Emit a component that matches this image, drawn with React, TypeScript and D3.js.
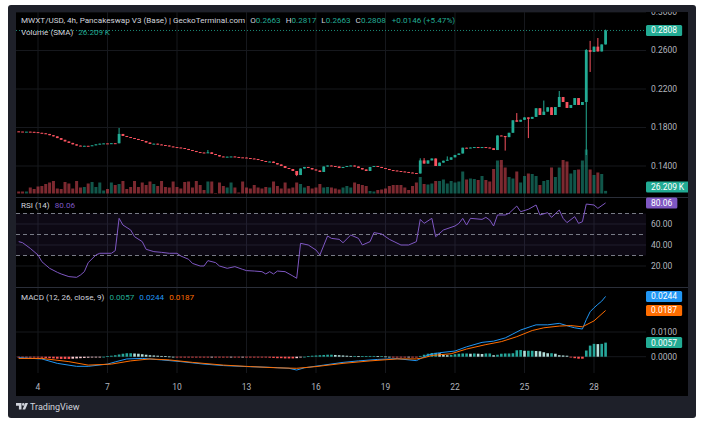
import { useEffect, useRef } from "react";
import * as d3 from "d3";

const W = 705;
const H = 426;

// 4h candles, the first one opens at day 3, 04:00
const startDay = 3 + 4 / 24;
const stepDay = 4 / 24;
const firstOpen = 0.176;

const closes = [
  0.1758, 0.1757, 0.1757, 0.1755, 0.1752, 0.1745, 0.174, 0.1733, 0.172, 0.1708,
  0.169, 0.1672, 0.1655, 0.164, 0.1625, 0.1612, 0.1608, 0.161, 0.1609, 0.1615,
  0.1625, 0.1632, 0.1635, 0.1633, 0.1637, 0.1636, 0.1733, 0.1712, 0.1701, 0.1691,
  0.1681, 0.167, 0.166, 0.1644, 0.1629, 0.1632, 0.1624, 0.1618, 0.1613, 0.1603,
  0.1597, 0.1592, 0.1587, 0.1577, 0.1566, 0.1556, 0.1545, 0.154, 0.1535, 0.1542,
  0.1525, 0.1514, 0.1499, 0.1494, 0.1497, 0.1499, 0.1494, 0.149, 0.1488, 0.1483,
  0.1478, 0.1473, 0.1462, 0.1452, 0.1442, 0.1446, 0.1431, 0.1416, 0.14, 0.1379,
  0.1369, 0.1348, 0.1306, 0.1374, 0.139, 0.1379, 0.1364, 0.1353, 0.1338, 0.1395,
  0.1405, 0.14, 0.1395, 0.1379, 0.139, 0.14, 0.1405, 0.1395, 0.1379, 0.1364,
  0.1348, 0.139, 0.14, 0.139, 0.1379, 0.1369, 0.1358, 0.1353, 0.1348, 0.1343,
  0.1338, 0.1332, 0.1327, 0.1322, 0.1458, 0.1425, 0.1458, 0.1478, 0.14, 0.1435,
  0.1455, 0.1465, 0.149, 0.1515, 0.153, 0.159, 0.1585, 0.1592, 0.1597, 0.159,
  0.1597, 0.1592, 0.1585, 0.1566, 0.1717, 0.1712, 0.17, 0.1745, 0.1875, 0.186,
  0.188, 0.1905, 0.189, 0.191, 0.2, 0.193, 0.1965, 0.201, 0.193, 0.2013,
  0.2117, 0.2065, 0.2003, 0.2034, 0.2106, 0.2034, 0.2065, 0.2605, 0.2585, 0.264,
  0.259, 0.2663, 0.2808,
];

// wicks that reach past the candle body: [candle, price]
const wickHigh: [number, number][] = [
  [26, 0.1795], [49, 0.1566], [104, 0.148], [105, 0.1482], [111, 0.15],
  [129, 0.195], [136, 0.208], [140, 0.2179], [147, 0.2615], [148, 0.27],
  [150, 0.273], [152, 0.2817],
];
const wickLow: [number, number][] = [
  [72, 0.1295], [126, 0.156], [132, 0.169], [147, 0.1514], [148, 0.2377],
];

// volume, thousands
const volumes = [
  20, 20, 20, 60, 45, 70, 75, 95, 110, 125, 50, 45, 115, 100, 50, 125, 60, 65, 100, 115,
  65, 110, 30, 45, 110, 85, 95, 125, 45, 65, 125, 65, 110, 85, 120, 95, 75, 125, 65, 60,
  120, 65, 50, 115, 120, 60, 125, 85, 35, 120, 120, 5, 110, 75, 60, 110, 60, 10, 120, 60,
  50, 85, 60, 50, 65, 60, 120, 75, 50, 110, 50, 60, 110, 95, 60, 75, 50, 60, 95, 60,
  65, 60, 50, 40, 60, 75, 60, 110, 95, 85, 75, 25, 20, 35, 40, 50, 75, 85, 85, 85,
  60, 35, 75, 110, 165, 95, 90, 100, 125, 125, 140, 100, 125, 110, 120, 220, 140, 150, 145, 135,
  175, 135, 120, 245, 330, 335, 260, 165, 150, 220, 110, 175, 200, 195, 175, 85, 125, 135, 260, 165,
  260, 335, 320, 200, 235, 240, 330, 440, 240, 185, 210, 195, 26.209,
];

// RSI(14): [candle, value]
const rsi: [number, number][] = [
  [0, 43.2], [1, 42.2], [3, 36.8], [5, 30.5], [6, 24.1], [8, 17.8], [10, 14.0], [11, 12.4],
  [13, 9.9], [15, 9.2], [16, 11.4], [17, 14.6], [18, 23.2], [20, 30.5], [21, 32.1], [24, 32.1],
  [25, 34.6], [26, 65.4], [27, 59.0], [29, 54.3], [30, 47.9], [32, 43.2], [33, 35.9], [35, 33.7],
  [37, 33.0], [39, 32.1], [41, 32.1], [42, 29.5], [44, 26.4], [45, 22.5], [47, 20.0], [48, 20.0],
  [49, 25.1], [51, 23.2], [52, 20.0], [54, 17.8], [56, 19.4], [58, 16.8], [59, 15.6], [61, 15.2],
  [63, 14.6], [64, 12.4], [65, 14.6], [66, 12.4], [67, 15.2], [69, 14.6], [71, 10.5], [72, 8.3],
  [73, 41.6], [75, 40.0], [77, 35.2], [78, 30.5], [80, 48.6], [81, 46.3], [83, 45.4], [84, 42.2],
  [86, 49.5], [88, 46.3], [89, 40.0], [91, 43.2], [92, 51.8], [94, 50.5], [96, 45.4], [99, 40.0],
  [101, 40.0], [103, 43.2], [104, 64.4], [105, 60.6], [107, 65.4], [108, 47.9], [110, 54.3], [113, 58.1],
  [114, 60.6], [115, 65.4], [116, 59.0], [117, 65.4], [120, 64.4], [121, 66.3], [122, 63.8], [123, 58.1],
  [124, 68.6], [126, 68.6], [127, 70.2], [129, 77.1], [130, 71.7], [132, 74.0], [134, 78.1], [135, 68.6],
  [137, 70.8], [138, 66.3], [140, 73.3], [141, 65.4], [142, 61.3], [144, 67.0], [145, 60.6], [146, 62.2],
  [147, 79.0], [149, 78.1], [150, 74.9], [152, 80.06],
];

// MACD(12, 26, close, 9): [candle, value]
const macdLine: [number, number][] = [
  [0, -0.0004], [6, -0.0009], [10, -0.0027], [15, -0.0039], [18, -0.0039], [23, -0.003],
  [25, -0.0021], [28, -0.0009], [32, -0.0007], [37, -0.0013], [42, -0.002], [48, -0.003],
  [53, -0.0036], [59, -0.004], [65, -0.0043], [70, -0.0047], [72, -0.0054], [74, -0.0045],
  [79, -0.0034], [84, -0.0023], [88, -0.0017], [93, -0.0011], [98, -0.0008], [103, -0.0016],
  [106, 0.0007], [109, 0.0016], [113, 0.0023], [116, 0.004], [120, 0.0058], [123, 0.0063],
  [126, 0.0076], [128, 0.0092], [130, 0.0108], [133, 0.0124], [134, 0.0129], [137, 0.0129],
  [140, 0.0135], [143, 0.0121], [144, 0.0117], [146, 0.0112], [147, 0.015], [148, 0.0182],
  [149, 0.0198], [150, 0.0212], [151, 0.0225], [152, 0.0244],
];
const signalLine: [number, number][] = [
  [0, -0.0007], [6, -0.0007], [13, -0.002], [18, -0.0034], [24, -0.003], [29, -0.0017],
  [34, -0.0009], [39, -0.0013], [45, -0.0023], [53, -0.0034], [60, -0.004], [67, -0.0045],
  [72, -0.0047], [77, -0.004], [84, -0.0027], [91, -0.0017], [98, -0.0009], [103, -0.0009],
  [105, -0.0004], [107, 0.0005], [112, 0.0012], [116, 0.0031], [121, 0.0049], [125, 0.0061],
  [129, 0.0081], [133, 0.0106], [136, 0.0117], [140, 0.0124], [143, 0.0126], [146, 0.0121],
  [149, 0.0145], [152, 0.0187],
];
// histogram, units of 0.0001
const histogram = [
  -1, -1, -1, -2, -2, -3, -4, -5, -6, -7, -8, -9, -9, -9, -8,
  -7, -6, -5, -4, -3, -2, -1, 0,
  2, 4, 6, 9, 12, 14, 14, 13, 12, 10, 8,
  6, 5, 4, 3, 2, 1, 0, -1, -1, -2, -2, -2,
  -2, -3, -3, -3, -2, -2, -2, -3, -3, -2, -2, -2, -1, -1, -1, -2, -2, -2, -3, -4, -5, -6, -6, -7, -7, -7, -6,
  -3, 0, 2, 4, 5, 6, 7, 8, 8, 7, 6, 5, 4, 3,
  3, 2, 2, 2, 3, 3, 2, 2, 1, 0, -1, -2,
  -3, -3, -2, -2, -2,
  3, 8, 12, 15, 16, 14, 7, 6, 7, 10, 12, 13,
  13, 12, 13, 12, 11, 13, 13, 6, 8, 12, 13, 13, 14,
  26, 27, 24, 24, 24, 23, 22, 18, 14, 14, 12,
  6, 5, 4, -3, -6, -8, -8,
  25, 45, 52, 51, 52, 57,
];

const dayTicks = [4, 7, 10, 13, 16, 19, 22, 25, 28];
const priceTicks = [0.14, 0.18, 0.22, 0.26, 0.3];
const rsiTicks = [20, 40, 60];
const rsiLevels = [70, 50, 30];
const macdTicks = [0, 0.01];

const UP = "#22ab94";
const DOWN = "#f7525f";
const TXT = "#d1d4dc";
const AXIS = "#b2b5be";
const GRID = "#16181d";
const RSI_C = "#7e57c2";
const MACD_C = "#2196f3";
const SIG_C = "#ff6d00";
const FONT = "Roboto, 'Noto Sans', sans-serif";

export default function App() {
  const svgRef = useRef<SVGSVGElement | null>(null);

  useEffect(() => {
    if (!svgRef.current) return;
    const svg = d3.select(svgRef.current);
    svg.selectAll("*").remove();

    const left = 16, right = 646, chartRight = 688;
    const top = 12, priceBottom = 197, rsiBottom = 287, macdBottom = 373, chartBottom = 396;

    const candles = closes.map((c, i) => {
      const o = i === 0 ? firstOpen : closes[i - 1];
      return { i, o, c, h: Math.max(o, c), l: Math.min(o, c), v: volumes[i] };
    });
    wickHigh.forEach(([i, v]) => (candles[i].h = Math.max(candles[i].h, v)));
    wickLow.forEach(([i, v]) => (candles[i].l = Math.min(candles[i].l, v)));

    const x = d3.scaleLinear().domain([4, 28]).range([38, 594]);
    const cx = (i: number) => x(startDay + i * stepDay);
    const y = d3.scaleLinear().domain([0.14, 0.3]).range([166, 12]);
    const yv = d3.scaleLinear().domain([0, 430]).range([193.5, 150.5]);
    const yr = d3.scaleLinear().domain([20, 80]).range([266, 203]);
    const ym = d3.scaleLinear().domain([0, 0.01]).range([356.7, 332]);

    // frame
    svg.append("rect").attr("width", W).attr("height", H).attr("fill", "#fff");
    svg.append("rect").attr("x", 8).attr("y", 5).attr("width", 688).attr("height", 413)
      .attr("rx", 3).attr("fill", "#1e2029");
    svg.append("rect").attr("x", left).attr("y", top).attr("width", chartRight - left)
      .attr("height", chartBottom - top).attr("fill", "#000");

    svg.append("defs").append("clipPath").attr("id", "chartclip")
      .append("rect").attr("x", left).attr("y", top)
      .attr("width", chartRight - left).attr("height", chartBottom - top);
    const g = svg.append("g").attr("clip-path", "url(#chartclip)")
      .attr("font-family", FONT);

    // grid
    g.append("g").selectAll("line").data(dayTicks).join("line")
      .attr("x1", (d) => x(d)).attr("x2", (d) => x(d))
      .attr("y1", top).attr("y2", macdBottom).attr("stroke", GRID);
    const hGrid = [
      ...priceTicks.map((d) => y(d)),
      ...rsiTicks.map((d) => yr(d)),
      ...macdTicks.map((d) => ym(d)),
    ];
    g.append("g").selectAll("line").data(hGrid).join("line")
      .attr("x1", left).attr("x2", right).attr("y1", (d) => d).attr("y2", (d) => d)
      .attr("stroke", GRID);

    // pane separators
    g.append("g").selectAll("line").data([priceBottom, rsiBottom]).join("line")
      .attr("x1", left).attr("x2", chartRight).attr("y1", (d) => d + 0.5).attr("y2", (d) => d + 0.5)
      .attr("stroke", "#2a2e39");

    // volume
    g.append("g").selectAll("rect").data(candles).join("rect")
      .attr("x", (d) => cx(d.i) - 1.5).attr("width", 3)
      .attr("y", (d) => yv(d.v)).attr("height", (d) => yv(0) - yv(d.v))
      .attr("fill", (d) => (d.c >= d.o ? UP : DOWN)).attr("opacity", 0.5);

    // candles
    const cg = g.append("g");
    cg.selectAll("line").data(candles).join("line")
      .attr("x1", (d) => cx(d.i)).attr("x2", (d) => cx(d.i))
      .attr("y1", (d) => y(d.h)).attr("y2", (d) => y(d.l))
      .attr("stroke", (d) => (d.c >= d.o ? UP : DOWN)).attr("stroke-width", 1);
    cg.selectAll("rect").data(candles).join("rect")
      .attr("x", (d) => cx(d.i) - 1.4).attr("width", 2.8)
      .attr("y", (d) => y(Math.max(d.o, d.c)))
      .attr("height", (d) => Math.max(1, Math.abs(y(d.o) - y(d.c))))
      .attr("fill", (d) => (d.c >= d.o ? UP : DOWN));

    // last price line
    const last = candles[candles.length - 1];
    g.append("line").attr("x1", left).attr("x2", right)
      .attr("y1", y(last.c)).attr("y2", y(last.c))
      .attr("stroke", UP).attr("stroke-dasharray", "1,2").attr("opacity", 0.8);

    // RSI
    g.append("rect").attr("x", left).attr("width", right - left)
      .attr("y", yr(70)).attr("height", yr(30) - yr(70))
      .attr("fill", RSI_C).attr("opacity", 0.1);
    g.append("g").selectAll("line").data(rsiLevels).join("line")
      .attr("x1", left).attr("x2", right).attr("y1", (d) => yr(d)).attr("y2", (d) => yr(d))
      .attr("stroke", "#787b86").attr("stroke-dasharray", "4,3");
    const rsiPath = d3.line<[number, number]>().x((d) => cx(d[0])).y((d) => yr(d[1]));
    g.append("path").datum(rsi).attr("d", rsiPath).attr("fill", "none")
      .attr("stroke", RSI_C).attr("stroke-width", 1);

    // MACD
    g.append("g").selectAll("rect").data(histogram).join("rect")
      .attr("x", (_, i) => cx(i) - 1.3).attr("width", 2.6)
      .attr("y", (d) => Math.min(ym(d / 10000), ym(0)))
      .attr("height", (d) => Math.max(0.8, Math.abs(ym(d / 10000) - ym(0))))
      .attr("fill", (d, i) => {
        const prev = i === 0 ? d : histogram[i - 1];
        if (d >= 0) return d >= prev ? "#26a69a" : "#b2dfdb";
        return d > prev ? "#ffcdd2" : "#ff5252";
      });
    const macdPath = d3.line<[number, number]>().x((d) => cx(d[0])).y((d) => ym(d[1]));
    g.append("path").datum(macdLine).attr("d", macdPath).attr("fill", "none")
      .attr("stroke", MACD_C).attr("stroke-width", 1);
    g.append("path").datum(signalLine).attr("d", macdPath).attr("fill", "none")
      .attr("stroke", SIG_C).attr("stroke-width", 1);

    // right scale labels
    const axisText = (vals: number[], scale: (v: number) => number, fmt: (v: number) => string) =>
      g.append("g").selectAll("text").data(vals).join("text")
        .attr("x", 651).attr("y", (d) => scale(d)).attr("dy", "0.35em")
        .attr("font-size", 8.5).attr("fill", AXIS).text((d) => fmt(d));
    axisText(priceTicks, y, (d) => d.toFixed(4));
    axisText(rsiTicks, yr, (d) => d.toFixed(2));
    axisText(macdTicks, ym, (d) => d.toFixed(4));

    const badge = (yy: number, label: string, bg: string) => {
      const bgRect = g.append("rect").attr("fill", bg).attr("rx", 1.5);
      const t = g.append("text").attr("x", 651).attr("y", yy).attr("dy", "0.35em")
        .attr("font-size", 8.5).attr("fill", "#fff").text(label);
      const w = (t.node() as SVGTextElement).getComputedTextLength();
      bgRect.attr("x", 646).attr("y", yy - 5.5).attr("width", w + 10).attr("height", 11);
    };
    badge(y(last.c), "0.2808", UP);
    badge(Math.min(yv(last.v), priceBottom - 10), "26.209\u2009K", UP);
    badge(yr(80.06), "80.06", RSI_C);
    badge(ym(0.0244), "0.0244", MACD_C);
    badge(ym(0.0187), "0.0187", SIG_C);
    badge(ym(0.0057), "0.0057", UP);

    // time axis
    g.append("g").selectAll("text").data(dayTicks).join("text")
      .attr("x", (d) => x(d)).attr("y", 387).attr("dy", "0.35em").attr("text-anchor", "middle")
      .attr("font-size", 8.5).attr("fill", AXIS).text((d) => String(d));

    // legends
    const legend = (yy: number, parts: [string, string, number][]) => {
      const t = g.append("text").attr("x", 21).attr("y", yy).attr("dy", "0.35em")
        .attr("font-size", 8.1);
      parts.forEach(([s, c, dx]) => t.append("tspan").attr("dx", dx).attr("fill", c).text(s));
    };
    legend(20, [
      ["MWXT/USD, 4h, Pancakeswap V3 (Base) | GeckoTerminal.com", TXT, 0],
      ["O", TXT, 5], ["0.2663", UP, 0],
      ["H", TXT, 5], ["0.2817", UP, 0],
      ["L", TXT, 5], ["0.2663", UP, 0],
      ["C", TXT, 5], ["0.2808", UP, 0],
      ["+0.0146 (+5.47%)", UP, 6],
    ]);
    legend(32, [["Volume (SMA)", TXT, 0], ["26.209\u2009K", UP, 5]]);
    legend(205, [["RSI (14)", TXT, 0], ["80.06", RSI_C, 5]]);
    legend(297, [
      ["MACD (12, 26, close, 9)", TXT, 0],
      ["0.0057", UP, 5], ["0.0244", MACD_C, 5], ["0.0187", SIG_C, 5],
    ]);

    // TradingView mark
    const logo = svg.append("g").attr("fill", TXT);
    logo.append("path").attr("d", "M16 403h5.5v6.5h-2.6v-3.8H16z");
    logo.append("circle").attr("cx", 23.3).attr("cy", 404.4).attr("r", 1.3);
    logo.append("path").attr("d", "M25.3 403h2.7l-2.8 6.5h-2.7z");
    svg.append("text").attr("x", 30).attr("y", 407).attr("dy", "0.35em")
      .attr("font-family", FONT).attr("font-size", 9).attr("fill", TXT).text("TradingView");
  }, []);

  return (
    <div style={{ position: "absolute", left: 0, top: 0, width: W, height: H }}>
      <svg ref={svgRef} width={W} height={H} style={{ display: "block" }} />
    </div>
  );
}
